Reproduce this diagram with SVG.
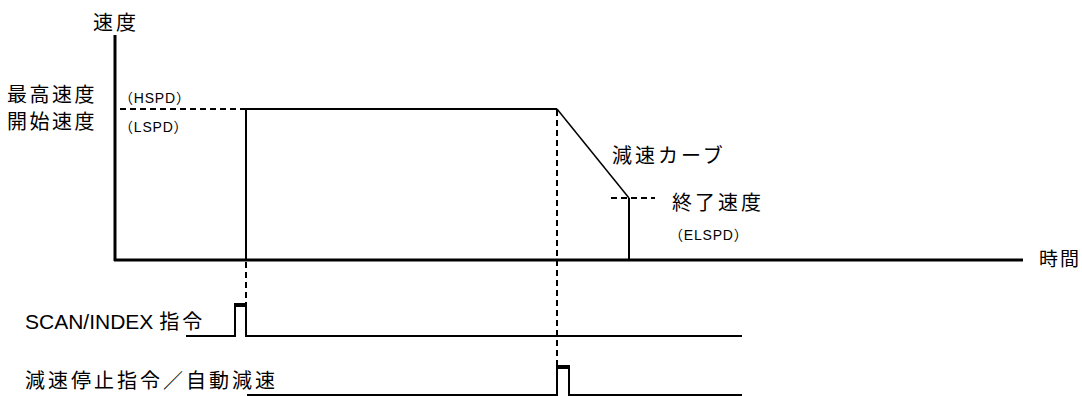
<svg xmlns="http://www.w3.org/2000/svg" width="1082" height="396" viewBox="0 0 1082 396">
<style>
.t{font-family:"Liberation Sans","Noto Sans CJK JP",sans-serif;fill:#000}
.big{font-size:20px;letter-spacing:3px}
.sm{font-size:14px;letter-spacing:0.8px}
.axis{stroke:#000;stroke-width:3;fill:none}
.ln{stroke:#000;stroke-width:2;fill:none}
.dash{stroke:#000;stroke-width:2;fill:none;stroke-dasharray:6 4}
</style>
<rect width="1082" height="396" fill="#fff"/>
<g id="axes">
<line class="axis" x1="115" y1="35" x2="115" y2="261"/>
<line class="axis" x1="114" y1="260" x2="1023" y2="260"/>
</g>
<g id="connectors">
<line class="dash" x1="120" y1="109" x2="246" y2="109"/>
<polyline class="ln" points="246,260 246,109 557,109"/>
<line stroke="#000" stroke-width="1.5" x1="557" y1="109" x2="629" y2="198"/>
<line class="ln" x1="629" y1="198" x2="629" y2="260"/>
<line class="dash" x1="611" y1="198" x2="655" y2="198"/>
<line class="dash" x1="246" y1="262" x2="246" y2="304"/>
<line class="dash" x1="557" y1="110" x2="557" y2="366"/>
<polyline class="ln" points="186,336 235,336 235,304 246,304 246,336 742,336"/>
<rect x="235" y="303" width="11" height="4" fill="#000"/>
<polyline class="ln" points="247,395 557,395 557,366 569,366 569,395 742,395"/>
<rect x="557" y="365" width="12" height="4" fill="#000"/>
</g>
<g id="labels">
<text class="t big" x="93" y="30">速度</text>
<text class="t big" x="7" y="102" style="letter-spacing:2.5px">最高速度</text>
<text class="t big" x="7" y="129" style="letter-spacing:2.5px">開始速度</text>
<text class="t sm" x="119" y="103">（HSPD）</text>
<text class="t sm" x="119" y="132">（LSPD）</text>
<text class="t big" x="612" y="163">減速カーブ</text>
<text class="t big" x="672" y="210">終了速度</text>
<text class="t sm" x="669" y="240">（ELSPD）</text>
<text class="t big" x="1039" y="266" style="font-size:19px;letter-spacing:2px">時間</text>
<text class="t big" x="25" y="329"><tspan style="font-size:21px;letter-spacing:0">SCAN/INDEX </tspan><tspan>指令</tspan></text>
<text class="t big" x="25" y="388">減速停止指令／自動減速</text>
</g>
</svg>
